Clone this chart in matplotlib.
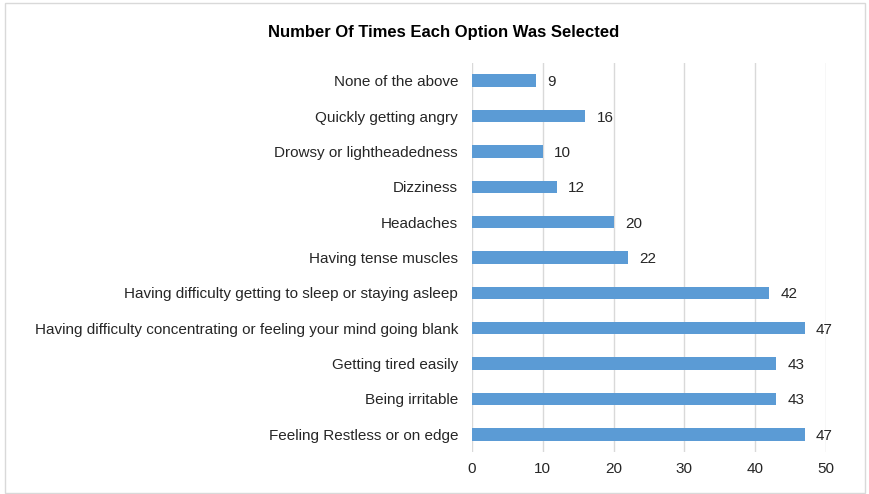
import matplotlib.pyplot as plt
from matplotlib.patches import Rectangle

plt.rcParams['font.family'] = ['Liberation Sans', 'DejaVu Sans']

options = [
    "Feeling Restless or on edge",
    "Being irritable",
    "Getting tired easily",
    "Having difficulty concentrating or feeling your mind going blank",
    "Having difficulty getting to sleep or staying asleep",
    "Having tense muscles",
    "Headaches",
    "Dizziness",
    "Drowsy or lightheadedness",
    "Quickly getting angry",
    "None of the above",
]
counts = [47, 43, 43, 47, 42, 22, 20, 12, 10, 16, 9]
xticks = [0, 10, 20, 30, 40, 50]

fig = plt.figure(figsize=(8.69, 4.94), dpi=100)
ax = fig.add_axes([472 / 869, 1 - 452 / 494, (826 - 472) / 869, (452 - 63) / 494])

bars = ax.barh(range(len(options)), counts, height=0.35, color='#5B9BD5')
ax.set_ylim(-0.5, len(options) - 0.5)
ax.set_xlim(0, 50)
ax.set_xticks(xticks)
ax.set_yticks(range(len(options)))
ax.set_yticklabels(options)

for b, v in zip(bars, counts):
    ax.text(v + 1.6, b.get_y() + b.get_height() / 2, str(v),
            va='center_baseline', ha='left', fontsize=11, color='#262626')

ax.grid(axis='x', color='#D9D9D9', linewidth=1)
ax.set_axisbelow(True)
for s in ax.spines.values():
    s.set_visible(False)
ax.tick_params(axis='both', length=0, labelsize=11, colors='#262626')
ax.tick_params(axis='y', pad=10)
ax.tick_params(axis='x', pad=7)

fig.text(444 / 869, 1 - 32 / 494, "Number Of Times Each Option Was Selected",
         ha='center', va='center', fontsize=12, fontweight='bold', color='black')

fig.patches.append(Rectangle((5 / 869, 0.002), 860 / 869, 1 - 3 / 494 - 0.002,
                             transform=fig.transFigure, fill=False,
                             edgecolor='#D9D9D9', linewidth=1))

fig.savefig('out.png', dpi=100)
